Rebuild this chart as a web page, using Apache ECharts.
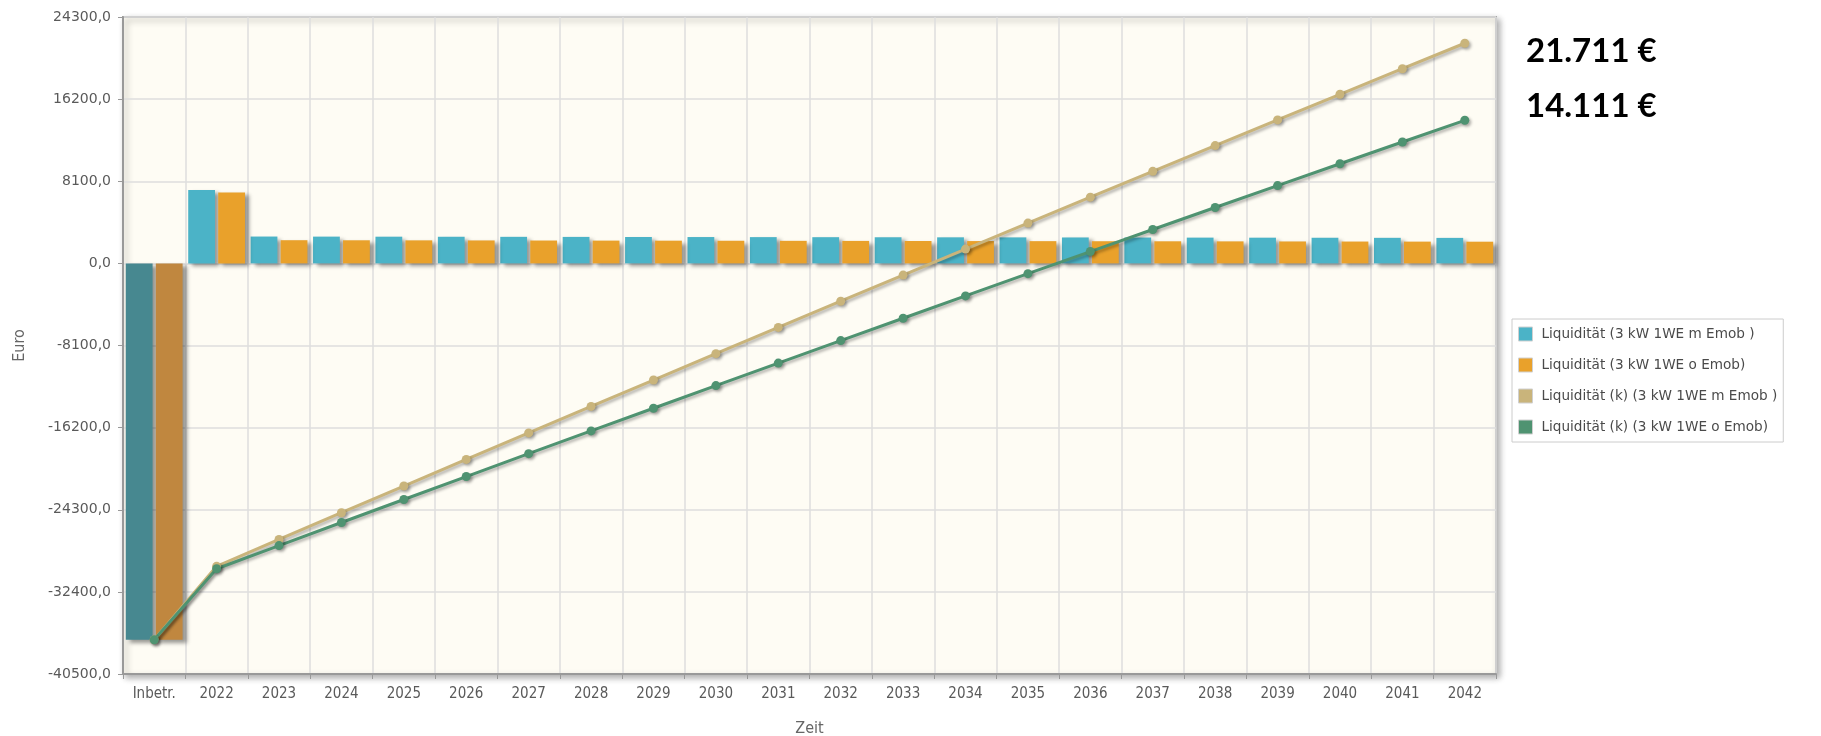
<!DOCTYPE html>
<html>
<head>
<meta charset="utf-8">
<script src="https://cdn.jsdelivr.net/npm/echarts@6/dist/echarts.min.js"></script>
<style>
  html, body { margin: 0; padding: 0; background: #ffffff; }
  #chart { width: 1821px; height: 736px; }
</style>
</head>
<body>
<div id="chart"></div>
<script>
// Categories: commissioning plus operating years
const categories = ['Inbetr.', '2022', '2023', '2024', '2025', '2026', '2027', '2028', '2029', '2030',
  '2031', '2032', '2033', '2034', '2035', '2036', '2037', '2038', '2039', '2040', '2041', '2042'];

// Yearly liquidity (bars), in Euro
const liqMitEmob = [-37120, 7241, 2646, 2639, 2632, 2625, 2618, 2611, 2604, 2597, 2590, 2583,
  2576, 2569, 2562, 2555, 2548, 2541, 2534, 2527, 2520, 2513];
const liqOhneEmob = [-37120, 7001, 2285, 2277, 2270, 2262, 2254, 2246, 2239, 2231, 2223, 2215,
  2208, 2200, 2192, 2184, 2177, 2169, 2161, 2153, 2146, 2138];

// Cumulative liquidity (lines), in Euro
const kumMitEmob = [-37120, -29879, -27233, -24594, -21962, -19337, -16719, -14108, -11504, -8907,
  -6317, -3734, -1158, 1411, 3973, 6528, 9076, 11617, 14151, 16678, 19198, 21711];
const kumOhneEmob = [-37120, -30119, -27834, -25557, -23287, -21025, -18771, -16525, -14286, -12055,
  -9832, -7617, -5409, -3209, -1017, 1167, 3344, 5513, 7674, 9827, 11973, 14111];

// Value axis range and step
const yMin = -40500;
const yMax = 24300;
const yStep = 8100;

const seriesNames = [
  'Liquidität (3 kW 1WE m Emob )',
  'Liquidität (3 kW 1WE o Emob)',
  'Liquidität (k) (3 kW 1WE m Emob )',
  'Liquidität (k) (3 kW 1WE o Emob)'
];

const colBlue = '#4bb3c7';
const colOrange = '#e9a12b';
const colTan = '#c9b47b';
const colGreen = '#4f9371';
const colBlueDark = '#478890';
const colOrangeDark = '#c0873f';

function deNumber(v) {
  return String(Math.round(v)).replace(/\B(?=(\d{3})+(?!\d))/g, '.');
}

function barData(values, firstColor) {
  return values.map((v, i) => i === 0 ? { value: v, itemStyle: { color: firstColor } } : v);
}

const barShadow = {
  shadowColor: 'rgba(0,0,0,0.4)',
  shadowBlur: 4,
  shadowOffsetX: 4,
  shadowOffsetY: 3
};

const lineShadow = {
  shadowColor: 'rgba(0,0,0,0.3)',
  shadowBlur: 3,
  shadowOffsetX: 2,
  shadowOffsetY: 2
};

const chart = echarts.init(document.getElementById('chart'), null, { renderer: 'canvas' });

chart.setOption({
  animation: false,
  backgroundColor: '#ffffff',
  grid: {
    left: 123,
    top: 17,
    right: 325,
    bottom: 62,
    outerBoundsMode: 'none',
    containLabel: false,
    show: true,
    backgroundColor: '#fefcf4',
    borderColor: '#a8a8a8',
    borderWidth: 2,
    shadowColor: 'rgba(0,0,0,0.3)',
    shadowBlur: 6,
    shadowOffsetX: 3,
    shadowOffsetY: 3
  },
  legend: {
    orient: 'vertical',
    left: 1512,
    top: 319,
    padding: [7, 6, 7, 6],
    itemGap: 15,
    itemWidth: 14,
    itemHeight: 14,
    icon: 'rect',
    borderColor: '#cccccc',
    borderWidth: 1,
    backgroundColor: '#ffffff',
    data: seriesNames,
    textStyle: {
      fontFamily: 'DejaVu Sans',
      fontSize: 13.6,
      color: '#4a4a4a',
      padding: [0, 0, 0, 4],
      lineHeight: 16
    },
    itemStyle: { borderColor: '#d0d0d0', borderWidth: 1 }
  },
  graphic: [
    {
      type: 'text',
      left: 1526,
      top: 35,
      style: {
        text: deNumber(kumMitEmob[kumMitEmob.length - 1]) + ' €',
        font: 'bold 33px Lato',
        fill: '#000000'
      }
    },
    {
      type: 'text',
      left: 1526,
      top: 90,
      style: {
        text: deNumber(kumOhneEmob[kumOhneEmob.length - 1]) + ' €',
        font: 'bold 33px Lato',
        fill: '#000000'
      }
    }
  ],
  xAxis: {
    type: 'category',
    data: categories,
    boundaryGap: true,
    name: 'Zeit',
    nameLocation: 'middle',
    nameGap: 47,
    nameTextStyle: { fontFamily: 'DejaVu Sans Condensed', fontSize: 16, color: '#666666' },
    axisLine: { onZero: false, lineStyle: { color: '#999999', width: 2 } },
    axisTick: { show: true, length: 5, lineStyle: { color: '#999999' } },
    axisLabel: {
      interval: 0,
      margin: 13,
      fontFamily: 'DejaVu Sans Condensed',
      fontSize: 15,
      color: '#5a5a5a'
    },
    splitLine: { show: true, interval: 0, lineStyle: { color: '#dedede', width: 1.5 } }
  },
  yAxis: {
    type: 'value',
    min: yMin,
    max: yMax,
    interval: yStep,
    name: 'Euro',
    nameLocation: 'middle',
    nameRotate: 90,
    nameGap: 95,
    nameTextStyle: { fontFamily: 'DejaVu Sans Condensed', fontSize: 16, color: '#666666' },
    axisLine: { show: true, lineStyle: { color: '#999999', width: 2 } },
    axisTick: { show: true, length: 5, lineStyle: { color: '#999999' } },
    axisLabel: {
      margin: 12,
      fontFamily: 'DejaVu Sans',
      fontSize: 14,
      color: '#5a5a5a',
      formatter: v => v.toFixed(1).replace('.', ',')
    },
    splitLine: { show: true, lineStyle: { color: '#dedede', width: 1.5 } }
  },
  series: [
    {
      name: seriesNames[0],
      type: 'bar',
      data: barData(liqMitEmob, colBlueDark),
      barCategoryGap: '9%',
      barGap: '12%',
      itemStyle: Object.assign({ color: colBlue }, barShadow),
      z: 2
    },
    {
      name: seriesNames[1],
      type: 'bar',
      data: barData(liqOhneEmob, colOrangeDark),
      barCategoryGap: '9%',
      barGap: '12%',
      itemStyle: Object.assign({ color: colOrange }, barShadow),
      z: 2
    },
    {
      name: seriesNames[2],
      type: 'line',
      data: kumMitEmob,
      symbol: 'circle',
      symbolSize: 9,
      itemStyle: Object.assign({ color: colTan }, lineShadow),
      lineStyle: Object.assign({ color: colTan, width: 3 }, lineShadow),
      z: 3
    },
    {
      name: seriesNames[3],
      type: 'line',
      data: kumOhneEmob,
      symbol: 'circle',
      symbolSize: 9,
      itemStyle: Object.assign({ color: colGreen }, lineShadow),
      lineStyle: Object.assign({ color: colGreen, width: 3 }, lineShadow),
      z: 3
    }
  ]
});
</script>
</body>
</html>
